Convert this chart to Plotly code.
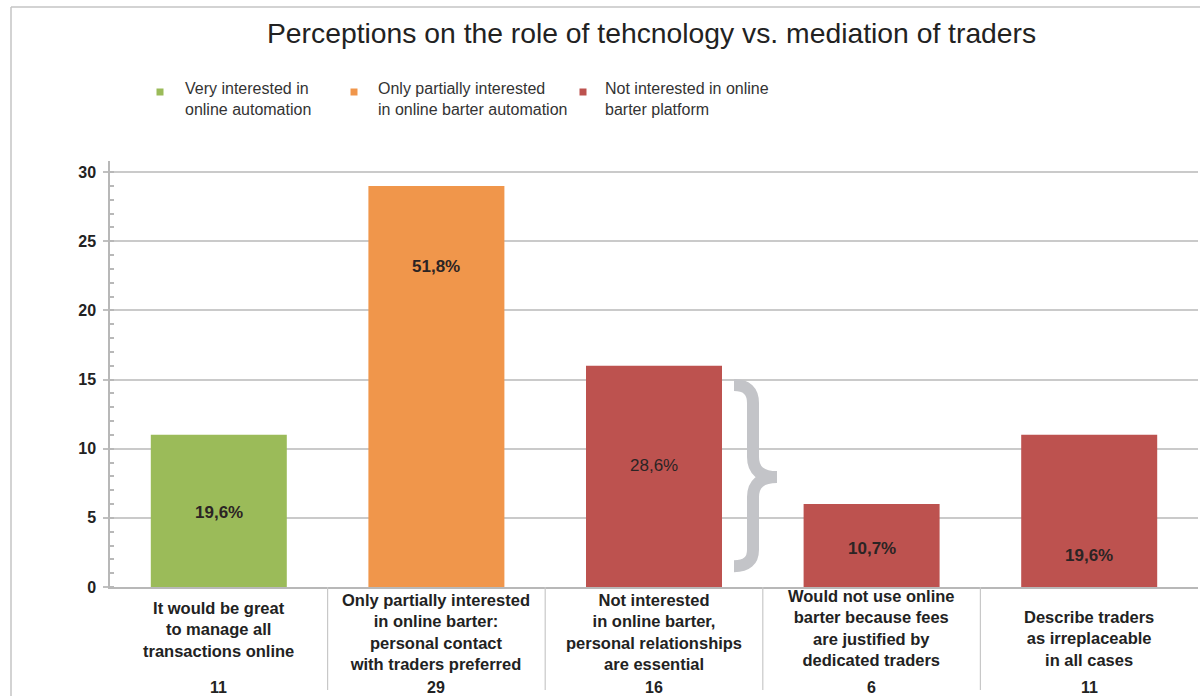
import plotly.graph_objects as go

# --- data -------------------------------------------------------------
categories = [
    "It would be great<br>to manage all<br>transactions online",
    "Only partially interested<br>in online barter:<br>personal contact<br>with traders preferred",
    "Not interested<br>in online barter,<br>personal relationships<br>are essential",
    "Would not use online<br>barter because fees<br>are justified by<br>dedicated traders",
    "Describe traders<br>as irreplaceable<br>in all cases",
]
counts = [11, 29, 16, 6, 11]
percent_labels = ["19,6%", "51,8%", "28,6%", "10,7%", "19,6%"]
groups = ["very", "partial", "not", "not", "not"]

legend_names = {
    "very": "Very interested in<br>online automation",
    "partial": "Only partially interested<br>in online barter automation",
    "not": "Not interested in online<br>barter platform",
}
group_colors = {"very": "#9bbb59", "partial": "#f0964b", "not": "#bd524f"}

y_ticks = [0, 5, 10, 15, 20, 25, 30]

# --- geometry helpers (pixel -> paper) --------------------------------
W, H = 1200, 698
L, R, T, B = 110, 2, 161, 111
PW, PH = W - L - R, H - T - B
FONT = "Liberation Sans, Arial"


def px(x):
    return (x - L) / PW


def py(y):
    return (H - B - y) / PH


cat_ids = list(range(len(categories)))

fig = go.Figure()
fig.add_trace(go.Bar(
    x=cat_ids,
    y=counts,
    marker=dict(color=[group_colors[g] for g in groups], line=dict(width=0)),
    width=0.625,
    showlegend=False,
    hoverinfo="skip",
))

annotations = []

# percentage labels inside the bars
pct_y = [5.4, 23.2, 8.75, 2.75, 2.3]
pct_bold = [True, True, False, True, True]
for i, (lab, yy, bold) in enumerate(zip(percent_labels, pct_y, pct_bold)):
    annotations.append(dict(
        x=i, y=yy, xref="x", yref="y", showarrow=False,
        text=f"<b>{lab}</b>" if bold else lab,
        font=dict(family=FONT, size=17, color="#2b2424"),
    ))

# category descriptions and counts under the axis
cat_center_px = [629, 632, 632, 628, 638]
for i, (cat, cy) in enumerate(zip(categories, cat_center_px)):
    annotations.append(dict(
        x=i, y=py(cy), xref="x", yref="paper", showarrow=False,
        yanchor="middle", text=f"<b>{cat}</b>", align="center",
        font=dict(family=FONT, size=16.5, color="#222222"),
    ))
    annotations.append(dict(
        x=i, y=py(687), xref="x", yref="paper", showarrow=False,
        yanchor="middle", text=f"<b>{counts[i]}</b>",
        font=dict(family=FONT, size=16, color="#222222"),
    ))

# title
annotations.append(dict(
    x=px(651), y=py(33), xref="paper", yref="paper", showarrow=False,
    xanchor="center", yanchor="middle",
    text="Perceptions on the role of tehcnology vs. mediation of traders",
    font=dict(family=FONT, size=28.3, color="#222222"),
))

# legend
shapes = []
legend_pos = {"very": (160, 183), "partial": (354, 376), "not": (583, 603)}
for g, (sq_x, tx) in legend_pos.items():
    shapes.append(dict(
        type="rect", xref="paper", yref="paper",
        x0=px(sq_x - 3.5), x1=px(sq_x + 3.5),
        y0=py(88.5), y1=py(95.5),
        fillcolor=group_colors[g], line=dict(width=0),
    ))
    annotations.append(dict(
        x=px(tx), y=py(99), xref="paper", yref="paper",
        showarrow=False, xanchor="left", yanchor="middle", align="left",
        text=legend_names[g],
        font=dict(family=FONT, size=16, color="#333333"),
    ))

# grey curly brace grouping the "not interested" bar
x0, x1, x2 = px(734), px(753), px(777)
brace = (
    f"M {x0},14.6 Q {x1},14.6 {x1},13.3 L {x1},9.4 "
    f"Q {x1},7.95 {x2},7.95 Q {x1},7.95 {x1},6.5 "
    f"L {x1},2.7 Q {x1},1.5 {x0},1.5"
)
shapes.append(dict(
    type="path", xref="paper", yref="y", path=brace,
    line=dict(color="#c3c4c8", width=12),
))

# vertical dividers between category descriptions
for k in range(1, len(categories)):
    xb = k - 0.5
    shapes.append(dict(
        type="line", xref="x", yref="paper",
        x0=xb, x1=xb, y0=0, y1=py(690),
        line=dict(color="#c8c8c8", width=1.2),
    ))

# outer frame
shapes.append(dict(
    type="line", xref="paper", yref="paper",
    x0=px(11), x1=px(11), y0=py(7), y1=py(696),
    line=dict(color="#c4c4c4", width=1.5),
))
shapes.append(dict(
    type="line", xref="paper", yref="paper",
    x0=px(11), x1=px(1200), y0=py(7), y1=py(7),
    line=dict(color="#c4c4c4", width=1.5),
))

fig.update_layout(
    width=W, height=H,
    margin=dict(l=L, r=R, t=T, b=B),
    paper_bgcolor="white", plot_bgcolor="white",
    showlegend=False,
    bargap=0.375,
    annotations=annotations,
    shapes=shapes,
    font=dict(family=FONT),
)
fig.update_xaxes(
    range=[-0.5, len(categories) - 0.5],
    showticklabels=False, ticks="", showgrid=False, zeroline=False,
    showline=True, linecolor="#b8b8b8", linewidth=1.5,
)
fig.update_yaxes(
    range=[0, 30.8],
    tickvals=y_ticks,
    ticks="outside", ticklen=5, tickcolor="#c0c0c0", tickwidth=1.5,
    tickfont=dict(family=FONT, size=16, color="#222222", weight="bold"),
    ticklabelstandoff=4,
    showgrid=True, gridcolor="#cacaca", gridwidth=1.5,
    zeroline=False,
    showline=True, linecolor="#b8b8b8", linewidth=1.5,
    minor=dict(dtick=1, ticks="inside", ticklen=4, tickcolor="#b8b8b8",
               showgrid=False),
)

fig.write_html("out.html")
